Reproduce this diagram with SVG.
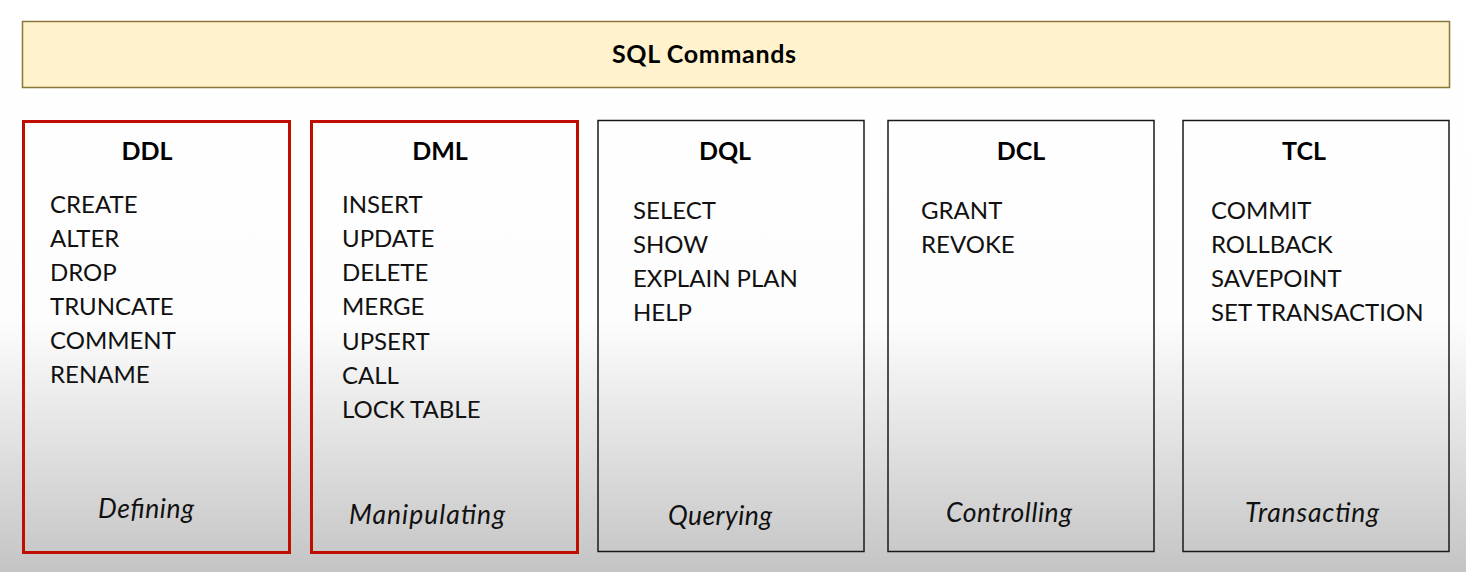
<svg xmlns="http://www.w3.org/2000/svg" width="1466" height="572" viewBox="0 0 1466 572">
<defs>
<linearGradient id="bg" gradientUnits="userSpaceOnUse" x1="0" y1="0" x2="0" y2="572">
<stop offset="0" stop-color="#ffffff"/>
<stop offset="0.56" stop-color="#fdfdfd"/>
<stop offset="1" stop-color="#c4c4c4"/>
</linearGradient>
<style>
.t{font-family:Lato,"Open Sans",sans-serif;font-size:24px;fill:#111}
.h{font-family:Lato,"Open Sans",sans-serif;font-size:25px;font-weight:bold;fill:#000;text-anchor:middle}
.f{font-family:Lato,"Open Sans",sans-serif;font-size:26.5px;font-style:italic;fill:#111;text-anchor:middle}
.red{fill:none;stroke:#c00d00;stroke-width:3}
.blk{fill:none;stroke:#1a1a1a;stroke-width:1.5}
</style>
</defs>
<rect x="0" y="0" width="1466" height="572" fill="url(#bg)"/>
<g id="title">
<rect x="22.5" y="21.5" width="1427" height="66" fill="#fff2cc" stroke="#8a7638" stroke-width="1.5"/>
<text class="h" x="704" y="63" textLength="184">SQL Commands</text>
</g>
<g id="ddl">
<rect class="red" x="23.5" y="121.5" width="266" height="431"/>
<text class="h" x="147" y="160">DDL</text>
<text class="t" x="50" y="213">CREATE</text>
<text class="t" x="50" y="247">ALTER</text>
<text class="t" x="50" y="281">DROP</text>
<text class="t" x="50" y="315">TRUNCATE</text>
<text class="t" x="50" y="349">COMMENT</text>
<text class="t" x="50" y="383">RENAME</text>
<text class="f" x="146" y="518" textLength="96">Defining</text>
</g>
<g id="dml">
<rect class="red" x="311.5" y="121.5" width="266" height="431"/>
<text class="h" x="440" y="160">DML</text>
<text class="t" x="342" y="213">INSERT</text>
<text class="t" x="342" y="247">UPDATE</text>
<text class="t" x="342" y="281">DELETE</text>
<text class="t" x="342" y="315">MERGE</text>
<text class="t" x="342" y="350">UPSERT</text>
<text class="t" x="342" y="384">CALL</text>
<text class="t" x="342" y="418">LOCK TABLE</text>
<text class="f" x="427" y="524" textLength="156">Manipulating</text>
</g>
<g id="dql">
<rect class="blk" x="598" y="120.5" width="266" height="431"/>
<text class="h" x="725" y="160">DQL</text>
<text class="t" x="633" y="219">SELECT</text>
<text class="t" x="633" y="253">SHOW</text>
<text class="t" x="633" y="287">EXPLAIN PLAN</text>
<text class="t" x="633" y="321">HELP</text>
<text class="f" x="720" y="525" textLength="104">Querying</text>
</g>
<g id="dcl">
<rect class="blk" x="888" y="120.5" width="266" height="431"/>
<text class="h" x="1021" y="160">DCL</text>
<text class="t" x="921" y="219">GRANT</text>
<text class="t" x="921" y="253">REVOKE</text>
<text class="f" x="1009" y="522" textLength="126">Controlling</text>
</g>
<g id="tcl">
<rect class="blk" x="1183" y="120.5" width="266" height="431"/>
<text class="h" x="1304" y="160">TCL</text>
<text class="t" x="1211" y="219">COMMIT</text>
<text class="t" x="1211" y="253">ROLLBACK</text>
<text class="t" x="1211" y="287">SAVEPOINT</text>
<text class="t" x="1211" y="321">SET TRANSACTION</text>
<text class="f" x="1312" y="522" textLength="134">Transacting</text>
</g>
<g id="connectors"/>
</svg>
